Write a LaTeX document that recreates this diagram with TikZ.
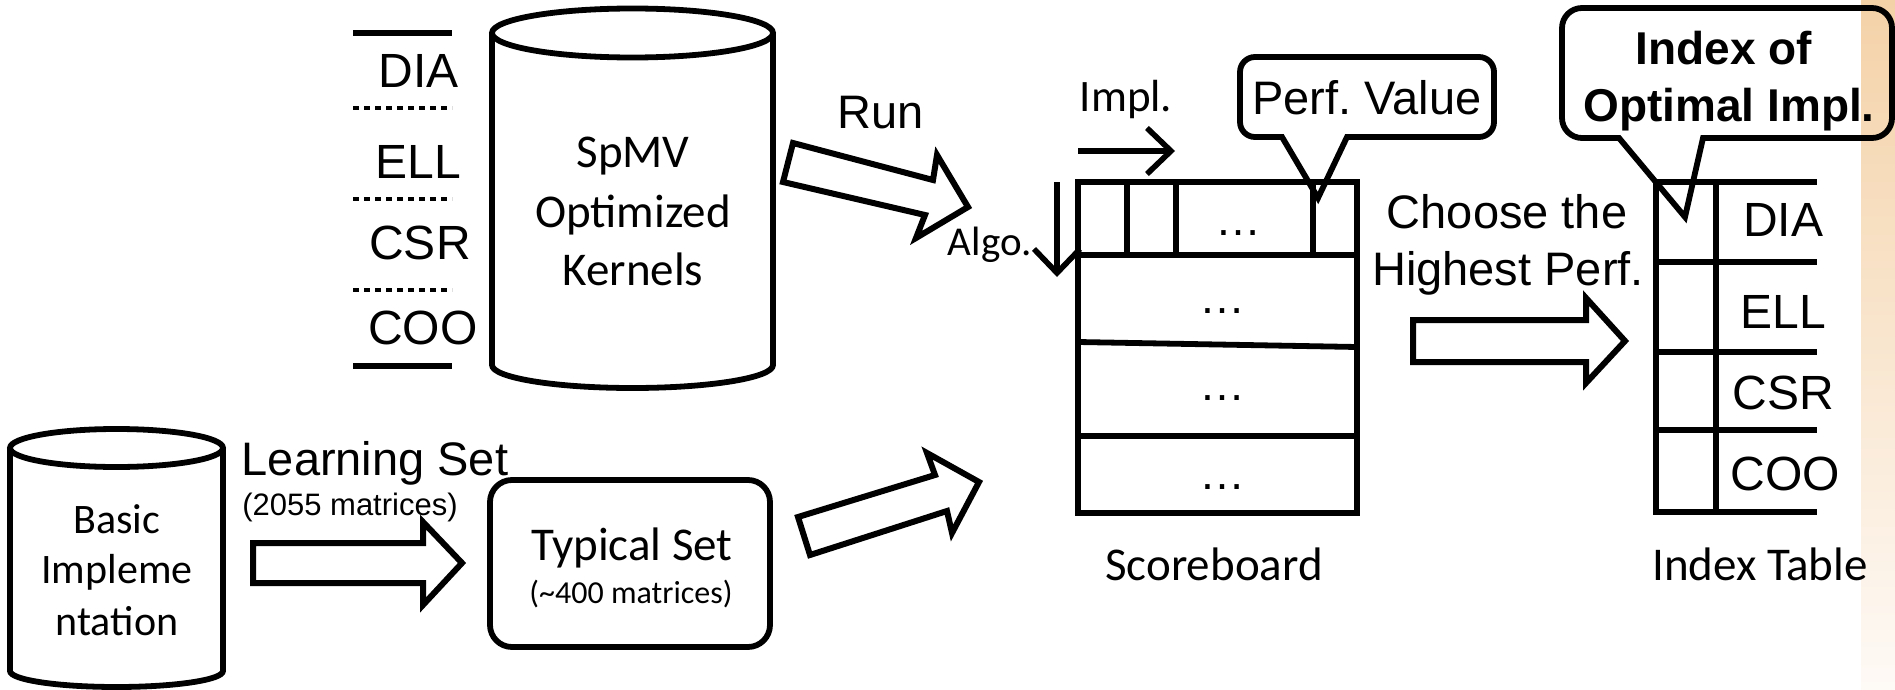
\documentclass[tikz,border=0pt]{standalone}
\usepackage{fontspec}
\setmainfont{Liberation Sans}
\newfontfamily\calib{Carlito}
\usetikzlibrary{arrows.meta}
\definecolor{peachtop}{RGB}{244,210,168}
\definecolor{peachbot}{RGB}{254,250,246}
\frenchspacing

\begin{document}
\begin{tikzpicture}[x=0.5pt,y=-0.5pt,
  ln/.style={line width=2.9pt},
  dotln/.style={line width=2.4pt, dash pattern=on 3pt off 2.5pt},
  blockarrow/.style={line width=3pt, fill=white, miter limit=10},
  thinarrow/.style={line width=2.8pt, -{Straight Barb[length=12pt,width=23pt,line width=2.8pt]}},
  ar/.style={anchor=base, inner sep=0pt, font=\fontsize{23.5}{27}\selectfont},
  fmt/.style={anchor=base, inner sep=0pt, font=\fontsize{24}{27}\selectfont},
  arb/.style={anchor=base, inner sep=0pt, font=\bfseries\fontsize{23}{27}\selectfont},
  ars/.style={anchor=base, inner sep=0pt, font=\fontsize{15.5}{18}\selectfont},
  ca/.style={anchor=base, inner sep=0pt, font=\calib\fontsize{23.5}{28}\selectfont},
  cam/.style={anchor=base, inner sep=0pt, font=\calib\fontsize{21}{25}\selectfont},
  cas/.style={anchor=base, inner sep=0pt, font=\calib\fontsize{16}{19}\selectfont},
  dots/.style={anchor=base, inner sep=0pt, font=\fontsize{23}{27}\selectfont}]

\useasboundingbox (0,0) rectangle (1895,690);

% tinted band on the right edge
\fill[top color=peachtop, bottom color=peachbot] (1861,0) rectangle (1895,690);

% ---- storage formats beside the kernel store
\draw[ln] (353,33) -- (452,33);
\draw[dotln] (353,108) -- (452,108);
\draw[dotln] (353,199) -- (452,199);
\draw[dotln] (353,290) -- (452,290);
\draw[ln] (353,366) -- (452,366);
\node[fmt] (fDIA) at (419,88) {DIA};
\node[fmt] (fELL) at (418,178) {ELL};
\node[fmt] (fCSR) at (420,259) {CSR};
\node[fmt] (fCOO) at (423,344) {COO};

% ---- kernel store (cylinder)
\draw[ln] (492,33) -- (492,365) arc[start angle=180, end angle=0, x radius=140.5, y radius=23] -- (773,33);
\draw[ln] (632.5,33) ellipse[x radius=140.5, y radius=24.5];
\node[ca] (k1) at (633,168) {SpMV};
\node[ca] (k2) at (633,227) {Optimized};
\node[ca] (k3) at (633,285) {Kernels};

% ---- Run arrow
\node[ar] (run) at (881,128) {Run};
\draw[blockarrow] (793,143) -- (933,180) -- (937,155) -- (968,207) -- (916,238) -- (925,215) -- (783,182) -- cycle;

% ---- scoreboard
\draw[ln] (1078,182) rectangle (1357,513);
\draw[ln] (1078,255) -- (1357,255);
\draw[ln] (1078,342) -- (1357,347);
\draw[ln] (1078,436) -- (1357,436);
\draw[ln] (1127,182) -- (1127,255);
\draw[ln] (1176,182) -- (1176,255);
\draw[ln] (1313,182) -- (1313,255);
\node[dots] (d1) at (1238,235.5) {…};
\node[dots] (d2) at (1222,313) {…};
\node[dots] (d3) at (1222,400) {…};
\node[dots] (d4) at (1222,489) {…};
\node[ca] (sb) at (1214,580) {Scoreboard};

% axis hints
\node[ca, font=\calib\fontsize{22.5}{27}\selectfont] (impl) at (1126,112) {Impl.};
\node[ca, font=\calib\fontsize{20.5}{25}\selectfont] (algo) at (990,255) {Algo.};
\coordinate (i0) at (1078,151);
\coordinate (i1) at (1175,151);
\coordinate (a0) at (1057,182);
\coordinate (a1) at (1057,277);
\draw[thinarrow] (i0) -- (i1);
\draw[thinarrow] (a0) -- (a1);

% Perf. Value callout
\draw[ln] (1282,137) -- (1318,198) -- (1347,137)
  {[rounded corners=7.5pt] -- (1494,137) -- (1494,57) -- (1240,57) -- (1240,137)} -- cycle;
\node[ar] (pv) at (1367,115) {Perf. Value};

% ---- choose arrow
\node[ar] (ch1) at (1507,228) {Choose the};
\node[ar] (ch2) at (1508,285) {Highest Perf.};
\draw[blockarrow] (1413,320) -- (1586,320) -- (1586,298) -- (1625,341) -- (1586,383) -- (1586,362) -- (1413,362) -- cycle;

% ---- index table
\draw[ln] (1656,182) rectangle (1716,512);
\draw[ln] (1716,182) -- (1817,182);
\draw[ln] (1656,262) -- (1817,262);
\draw[ln] (1656,352) -- (1817,352);
\draw[ln] (1656,430) -- (1817,430);
\draw[ln] (1716,512) -- (1817,512);
\node[fmt] (tDIA) at (1783,236) {DIA};
\node[fmt] (tELL) at (1783,328) {ELL};
\node[fmt] (tCSR) at (1783,409) {CSR};
\node[fmt] (tCOO) at (1785,490) {COO};
\node[ca] (it) at (1760,580) {Index Table};

% index callout
\draw[ln] (1619,138) -- (1685,217) -- (1703,138)
  {[rounded corners=10pt] -- (1892,138) -- (1892,8) -- (1562,8) -- (1562,138)} -- cycle;
\node[arb] (io1) at (1724,65) {Index of};
\node[arb] (io2) at (1729,122) {Optimal Impl.};

% ---- basic implementation (cylinder)
\draw[ln] (10,448) -- (10,671) arc[start angle=180, end angle=0, x radius=106.5, y radius=16] -- (223,448);
\draw[ln] (116.5,448) ellipse[x radius=106.5, y radius=19];
\node[cam] (b1) at (117,533) {Basic};
\node[cam] (b2) at (117,583) {Impleme};
\node[cam] (b3) at (117,635) {ntation};

% learning set arrow
\node[ar] (ls) at (375,475) {Learning Set};
\node[ars] (ls2) at (350,515) {(2055 matrices)};
\draw[blockarrow] (253,543) -- (423,543) -- (423,522) -- (462,563) -- (423,605) -- (423,583) -- (253,583) -- cycle;

% typical set
\draw[ln, rounded corners=11pt] (490,480) rectangle (770,647);
\node[ca] (ts) at (632,560) {Typical Set};
\node[cas] (ts2) at (631,603) {(\char"7E 400 matrices)};

% arrow up to the scoreboard
\draw[blockarrow] (798,517) -- (935,475) -- (927,453) -- (979,482) -- (952,533) -- (947,511) -- (810,555) -- cycle;

\end{tikzpicture}
\end{document}
